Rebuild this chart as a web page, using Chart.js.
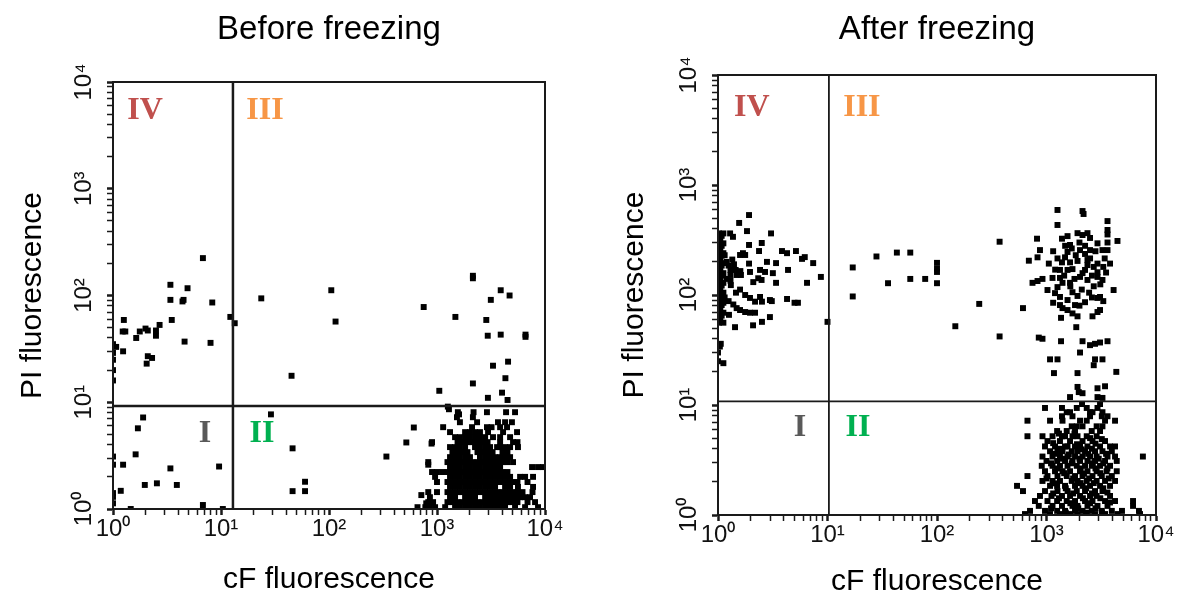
<!DOCTYPE html>
<html lang="en">
<head>
<meta charset="UTF-8">
<title>cF / PI fluorescence before and after freezing</title>
<script src="https://cdn.jsdelivr.net/npm/chart.js"></script>
<style>
  body { margin: 0; background: #fff; }
  .panel { position: absolute; top: 0; }
</style>
</head>
<body>
<div class="panel" style="left:0"><canvas id="beforeChart" width="590" height="601"></canvas></div>
<div class="panel" style="left:590px"><canvas id="afterChart" width="587" height="601"></canvas></div>

<script>
// gate positions (cF, PI)
const beforeGateCF = 12.9, beforeGatePI = 9.2;
const afterGateCF = 10.3, afterGatePI = 10.8;

// ---- before freezing ----
// scattered PI+ cells, low cF (quadrant IV)
const beforeQ4 = [[6.8,224],[3.4,126],[4.9,117],[3.4,91],[4.5,91],[4.4,88],[8.3,86],[1.26,59],[3.5,59],[2.7,53],
  [1.23,46],[1.3,46],[1.77,46],[2.0,49],[2.1,47],[2.5,47],[2.5,42],[1.64,40],[4.6,37],[8.0,36],[1.24,30],[1.07,33],
  [2.1,27],[2.3,26],[2.05,23],[1,35],[1,29],[1,25],[1,20],[1,16],[12.2,63],[13.4,55]];
// PI+ and cF+ (quadrant III)
const beforeQ3 = [[23.6,94],[105,112],[115,57],[45,17.7],[753,78],[1480,63],[2150,153],[2150,145],[3890,112],[4700,100],
  [3150,91],[2860,59],[2950,42],[3890,43],[6600,43],[6600,41],[3300,22],[4550,24],[4300,16.8],[2150,15],[1050,12.8],
  [4000,12.3],[2960,11],[4500,10.5]];
// double negative (quadrant I)
const beforeQ1 = [[1.9,7.2],[1.7,5.7],[1.62,3.25],[1.24,2.6],[1,3.1],[1,2.6],[3.4,2.4],[9.6,2.5],[1.97,1.68],[2.55,1.74],
  [3.9,1.68],[1.18,1.48],[1,1.41],[1,1.3],[1,1.13],[6.8,1.09],[1.46,1.0],[10.4,1.0]];
// sparse live cells (quadrant II)
const beforeQ2 = [[29,7.7],[46,3.7],[46,1.47],[60,1.47],[60,1.8],[340,3.1],[610,5.8],[520,4.2],[890,4.1],[830,2.6],
  [716,1.35],[795,1.13],[1600,7.7],[1260,9.1]];
// dense live population, read row by row (PI value, cF values)
const beforeRowPI = [1.04, 1.16, 1.29, 1.44, 1.61, 1.79, 2.0, 2.22, 2.47, 2.75, 3.06, 3.41, 3.8, 4.23, 4.71, 5.25, 5.84, 6.5, 7.24, 8.07, 8.6];
const beforeRowCF = [
  [660,780,860,960,1190,1470,1630,1820,2020,2250,2500,2790,3100,3450,3840,4270,5280,6540,8620],
  [830,920,1250,1390,1550,1720,1915,2130,2370,2640,2940,3270,3630,4040,4490,5000,5560,6890,8090],
  [860,1320,1470,1820,2020,2250,2790,3100,3450,3840,4270,4750,5280,5880,6540,7270],
  [830,1000,1250,1390,1550,1720,1915,2130,2370,2640,2940,3270,3630,4040,4490,5000,5560,6190,7660],
  [1320,1470,1630,1820,2020,2250,2500,2790,3100,3450,4270,4750,5620,7750],
  [1000,1250,1390,1550,1720,1915,2130,2370,2640,2940,3270,3630,4040,4490,5000,5560,6890],
  [960,1320,1470,1630,1820,2020,2250,2500,2790,3100,3450,3840,4270,4750,5880,6540,7750],
  [900,1000,1125,1250,1390,1550,1720,1915,2130,2370,2640,2940,3270,3630,4040,4490],
  [1320,1470,1630,1820,2020,2250,2500,2790,3100,3450,3840,7590,8620,9580],
  [830,1250,1390,1550,1720,1915,2130,2370,2640,2940,3270,3630,4040,4490,5060],
  [1320,1470,1630,1820,2020,2500,2790,3100,3450,3840,4270,4750],
  [1390,1550,1720,1915,2370,2640,2940,3270,4040,4490],
  [1320,1470,1630,1820,2250,2500,2790,3100,3600,3840,4270,4750,5620],
  [900,1550,1720,1915,2130,2370,2640,2940,3840,5060,5560],
  [1470,1630,1820,2020,2250,2500,2790,3300,3840,4750],
  [1320,1820,2020,2250,2500,2970,4090,5510],
  [1140,2110,2900,3200,3840,4450],
  [1630,2350,3670,4270,4940],
  [1530,2150],
  [1560,2180,2900,4360,5280],
  [1290]
];

// ---- after freezing ----
// PI+ band pressed against the cF minimum
const afterBand = [[1.02,363],[1.12,363],[1.05,327],[1.0,327],[1.02,295],[1.12,295],[1.05,266],[1.0,266],[1.02,240],[1.12,240],
  [1.05,216],[1.0,216],[1.02,195],[1.12,195],[1.05,176],[1.0,176],[1.02,158],[1.12,158],[1.05,143],[1.0,143],[1.02,129],
  [1.12,129],[1.05,116],[1.0,116],[1.02,105],[1.12,105],[1.05,94],[1.0,94],[1.02,85],[1.12,85],[1.05,77],[1.0,77],
  [1.02,69],[1.12,69],[1.05,62],[1.0,62],[1.02,56],[1.12,56],[1.06,36],[1.04,34],[1.0,30],[1.0,25],[1.12,24],
  [1.08,345],[1.08,280],[1.08,228],[1.08,185],[1.08,150],[1.08,122],[1.08,99],[1.08,81],[1.08,65]];
const afterQ4 = [[1.92,533],[1.56,452],[1.84,381],[3.05,363],[1.29,363],[1.37,338],[1.92,285],[2.51,297],[1.69,240],[1.59,231],
  [1.77,231],[2.37,251],[3.84,251],[4.27,240],[5.15,251],[5.85,213],[6.2,221],[7.4,195],[2.8,200],[3.39,195],[1.92,193],
  [1.3,169],[1.45,169],[1.6,165],[1.3,152],[1.48,152],[1.62,152],[1.96,162],[2.42,169],[2.69,162],[3.17,158],[4.36,169],
  [8.7,146],[6.5,129],[3.39,129],[2.33,142],[2.5,137],[2.1,131],[1.31,123],[1.46,105],[1.59,112],[1.77,100],[1.96,94],
  [2.18,87],[2.42,96],[2.52,87],[2.98,90],[3.1,88],[4.27,92],[5.0,85],[5.37,85],[1.48,76],[1.59,73],[1.77,70],[1.96,69],
  [2.18,69],[1.26,66],[2.98,63],[2.52,57],[2.09,53],[1.43,51],[10,57],[1.2,200],[1.25,185],[1.35,210],[1.15,230],
  [1.4,190],[1.2,140],[1.3,135],[1.15,95],[1.25,88],[1.38,82]];
const afterQ3Mid = [[17,178],[17,97],[28,224],[43,243],[57,243],[35.7,128],[57,140],[78,140],[100,196],[100,174],[100,162],
  [100,128],[147,52],[243,83],[373,305],[373,42]];
const afterQ3 = [[1260,593],[2133,580],[2180,545],[1260,433],[3607,470],[3607,390],[3607,355],[4448,310],[819,325],[1385,325],
  [1556,343],[1920,365],[2133,351],[2367,365],[2497,330],[2922,295],[3607,300],[3607,256],[3244,256],[1640,285],[2023,256],
  [2497,256],[2248,236],[872,256],[828,220],[690,205],[1556,246],[1476,220],[1260,215],[1385,198],[1640,198],[1920,204],
  [2367,208],[1050,193],[1328,169],[1556,169],[1727,172],[2248,169],[2367,187],[2922,193],[3804,193],[2922,161],[2922,146],
  [3244,137],[2133,158],[2023,146],[2367,137],[745,129],[828,134],[919,140],[1135,143],[1328,143],[1400,129],[1640,129],
  [1021,111],[1260,118],[1727,106],[1920,98],[1196,104],[1328,96],[1556,90],[2922,94],[3082,96],[4100,111],[2248,86],
  [1821,81],[1328,81],[1400,76],[1556,73],[1727,68],[1920,64],[610,76],[3082,73],[2922,70],[2630,64],[1357,62],[1870,51],
  [850,41],[919,40],[1357,38],[2133,38],[2497,35],[2774,36],[3082,37],[3607,38],[2023,30],[1077,26],[1260,26],[2774,26],
  [3244,26],[2700,23],[1170,19.5],[1920,19.5],[4340,20],[1920,14.6],[1970,13.1],[2133,12.8],[2922,14.2],[3424,14.8],
  [1640,11.8],[2922,11.8],[3244,11.6],
  [1480,280],[1700,265],[1850,230],[2000,300],[2250,280],[2500,215],[2700,180],[2800,250],[3300,180],[3400,215],
  [1150,250],[1200,170],[1450,150],[1800,140],[2600,150],[3100,125],[3500,160],[1650,120],[2100,112],[2450,105],
  [2700,120],[3300,88],[1150,85],[2000,80],[2600,95]];
const afterRowPI = [10.2, 9.4, 8.6, 7.9, 7.2, 6.4, 5.8, 5.2, 4.7, 4.2, 3.8, 3.4, 3.1, 2.8, 2.5, 2.26, 2.04, 1.84, 1.65, 1.49, 1.34, 1.21, 1.09, 1.02];
const afterRowCF = [
  [2110,3082],
  [969,1385,1890,2330,2922],
  [1530,1640,2497,2630,3244],
  [1385,1727,2497,3200,3607],
  [670,1077,1400,2023,2330,3424,4226],
  [1700,1890,2133,2870,3244],
  [1250,1530,1821,2590,3082],
  [670,919,1135,1385,1476,1727,1920,2330,2870],
  [1021,1328,1640,2133,2630,3424],
  [969,1196,1476,1556,1821,2023,2367,3082,3804,4226],
  [1077,1260,1400,1700,1920,2248,2774,3244,3950],
  [919,1135,1328,1556,1821,2133,2497,2870,3607,4226,7590],
  [1000,1250,1476,1727,2023,2367,2774,3424,4380],
  [905,1135,1328,1556,1890,2248,2590,3082,3804],
  [969,1196,1400,1640,2023,2367,2870,3540,4380],
  [670,1021,1260,1530,1821,2133,2630,3200,3950],
  [919,1135,1328,1700,1920,2330,2870,3424,4226],
  [538,1077,1250,1476,1821,2133,2497,3082,3804],
  [610,969,1260,1556,1890,2248,2774,3244],
  [872,1110,1385,1640,2023,2497,2870,3804],
  [785,1021,1250,1530,1821,2248,2630,3424,4226,6170],
  [850,1135,1385,1727,1920,2367,2922,3607,6170],
  [707,969,1250,1476,1821,2133,2590,3200,3950,4890,6990],
  [636,1077,1328,1640,1920,2330,2774,3424,4448,7146]
];
// extra live cells filling the gaps of the after-freezing cluster
const afterQ2Fill = [[1300,5.5],[1800,5.5],[2500,5.0],[3200,4.9],[1150,4.5],[1900,4.4],[2800,4.45],[1350,4.0],[2100,3.95],
  [2600,4.0],[3500,3.6],[1200,3.6],[1600,3.55],[2400,3.6],[3000,3.25],[1400,3.25],[2000,3.25],[2650,2.95],[1100,2.95],
  [1700,2.95],[3300,2.95],[1250,2.65],[2050,2.65],[2800,2.65],[3600,2.65],[1450,2.4],[2200,2.38],[3100,2.4],[1000,2.15],
  [1750,2.15],[2450,2.15],[3700,2.15],[1200,1.94],[2050,1.95],[2700,1.95],[1500,1.75],[2300,1.75],[3300,1.75],[1150,1.57],
  [1750,1.57],[2600,1.57],[3600,1.6],[1300,1.42],[2150,1.42],[3100,1.42],[1650,1.28],[2500,1.28],[3800,1.3],[1100,1.15],
  [1950,1.15],[2800,1.15],[1500,1.05],[2300,1.05],[3200,1.05]];

// axis ticks: every integer multiple inside each decade
const decadeTicks = [];
for (let e = 0; e < 4; e++) for (let m = 1; m < 10; m++) decadeTicks.push(m * Math.pow(10, e));
decadeTicks.push(10000);
const sup = ['\u2070', '\u00b9', '\u00b2', '\u00b3', '\u2074'];

function isDecade(v) {
  const e = Math.log10(v);
  return Math.abs(e - Math.round(e)) < 1e-9;
}
function pairs(list) { return list.map(p => ({ x: p[0], y: p[1] })); }
function rows(ys, xs) {
  const out = [];
  ys.forEach((y, i) => xs[i].forEach(x => out.push({ x, y })));
  return out;
}

const gatePlugin = {
  id: 'gates',
  afterDatasetsDraw(chart, args, opts) {
    const { ctx, chartArea: a, scales: { x, y } } = chart;
    ctx.save();
    ctx.strokeStyle = '#1a1a1a';
    ctx.lineWidth = opts.frameWidth;
    ctx.strokeRect(a.left, a.top, a.right - a.left, a.bottom - a.top);
    const gx = x.getPixelForValue(opts.gateX);
    const gy = y.getPixelForValue(opts.gateY);
    ctx.lineWidth = opts.gateWidth;
    ctx.beginPath();
    ctx.moveTo(gx, a.top); ctx.lineTo(gx, a.bottom);
    ctx.moveTo(a.left, gy); ctx.lineTo(a.right, gy);
    ctx.stroke();
    ctx.font = 'bold 32px "Liberation Serif", "Times New Roman", serif';
    ctx.textAlign = 'center';
    ctx.textBaseline = 'middle';
    opts.labels.forEach(l => {
      ctx.fillStyle = l.color;
      ctx.fillText(l.text, x.getPixelForValue(l.x), y.getPixelForValue(l.y));
    });
    ctx.restore();
  }
};

function logAxis(opts) {
  return {
    type: 'logarithmic',
    min: 1,
    max: 10000,
    afterBuildTicks: s => { s.ticks = decadeTicks.map(v => ({ value: v })); },
    afterFit: s => { if (opts.width) s.width = opts.width; if (opts.height) s.height = opts.height; },
    grid: {
      drawOnChartArea: false,
      drawTicks: true,
      tickLength: 6,
      tickColor: '#1a1a1a',
      tickWidth: c => (c.tick && isDecade(c.tick.value)) ? 2.5 : 1.5
    },
    border: { display: true, color: '#1a1a1a', width: 2 },
    ticks: {
      autoSkip: false,
      minRotation: opts.rotation,
      maxRotation: opts.rotation,
      crossAlign: opts.cross,
      padding: opts.tickPad,
      color: '#111',
      font: { family: '"Liberation Sans", Arial, sans-serif', size: 24 },
      callback: v => isDecade(v) ? '10' + sup[Math.round(Math.log10(v))] : ''
    },
    title: {
      display: true,
      text: opts.title,
      color: '#000',
      font: { family: '"Liberation Sans", Arial, sans-serif', size: 30 },
      padding: opts.titlePad
    }
  };
}

function makeChart(id, cfg) {
  const pointStyle = { pointStyle: 'rect', pointRadius: 4.2, pointBorderWidth: 0, backgroundColor: '#000', borderColor: '#000' };
  new Chart(document.getElementById(id), {
    type: 'scatter',
    data: { datasets: cfg.sets.map(d => Object.assign({ data: d }, pointStyle)) },
    options: {
      responsive: false,
      animation: false,
      devicePixelRatio: 1,
      layout: { padding: cfg.padding },
      scales: {
        x: logAxis({ title: 'cF fluorescence', rotation: 0, cross: 'near', tickPad: 0, height: cfg.xHeight,
          titlePad: { top: 0, bottom: cfg.xTitleBottom } }),
        y: logAxis({ title: 'PI fluorescence', rotation: 90, cross: 'center', tickPad: 4, width: cfg.yWidth,
          titlePad: { top: cfg.yTitleTop, bottom: 0 } })
      },
      plugins: {
        legend: { display: false },
        tooltip: { enabled: false },
        title: {
          display: true,
          fullSize: false,
          text: cfg.title,
          color: '#000',
          font: { family: '"Liberation Sans", Arial, sans-serif', size: 33, weight: 'normal' },
          padding: cfg.titlePad
        },
        gates: cfg.gates
      }
    },
    plugins: [gatePlugin]
  });
}

makeChart('beforeChart', {
  title: 'Before freezing',
  sets: [pairs(beforeQ4), pairs(beforeQ3), pairs(beforeQ1), pairs(beforeQ2), rows(beforeRowPI, beforeRowCF)],
  padding: { left: 0, right: 45, top: 0, bottom: 0 },
  xHeight: 92, yWidth: 113,
  xTitleBottom: 3, yTitleTop: 15,
  titlePad: { top: 10, bottom: 32.4 },
  gates: {
    gateX: beforeGateCF, gateY: beforeGatePI, frameWidth: 2, gateWidth: 2.5,
    labels: [
      { text: 'IV', x: 1.98, y: 5370, color: '#C0504D' },
      { text: 'III', x: 25.5, y: 5370, color: '#F79646' },
      { text: 'I', x: 7.1, y: 5.1, color: '#595959' },
      { text: 'II', x: 24, y: 5.1, color: '#00B050' }
    ]
  }
});

makeChart('afterChart', {
  title: 'After freezing',
  sets: [pairs(afterBand), pairs(afterQ4), pairs(afterQ3Mid), pairs(afterQ3), rows(afterRowPI, afterRowCF), pairs(afterQ2Fill)],
  padding: { left: 0, right: 21, top: 0, bottom: 0 },
  xHeight: 86, yWidth: 128,
  xTitleBottom: 1, yTitleTop: 27,
  titlePad: { top: 10, bottom: 25.4 },
  gates: {
    gateX: afterGateCF, gateY: afterGatePI, frameWidth: 2, gateWidth: 1.8,
    labels: [
      { text: 'IV', x: 2.04, y: 5010, color: '#C0504D' },
      { text: 'III', x: 20.6, y: 5010, color: '#F79646' },
      { text: 'I', x: 5.6, y: 6.2, color: '#595959' },
      { text: 'II', x: 19, y: 6.2, color: '#00B050' }
    ]
  }
});
</script>
</body>
</html>
